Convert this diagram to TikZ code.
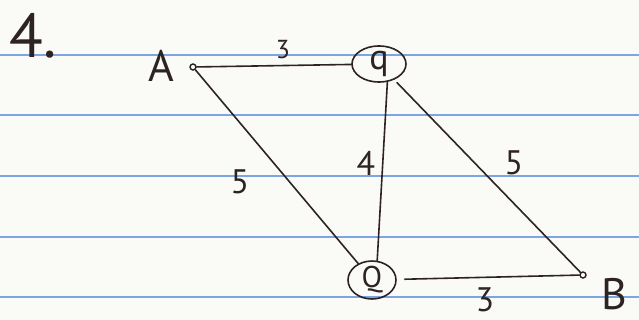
\documentclass[tikz,border=0pt]{standalone}
\usepackage{fontspec}
\setmainfont{PT Sans}
\usetikzlibrary{shapes.geometric}
\definecolor{ink}{RGB}{45,35,35}
\definecolor{ruling}{RGB}{125,165,228}
\definecolor{paper}{RGB}{250,250,247}
\tikzset{
  pen/.style={ink, line width=1.6pt, line cap=round},
  dot/.style={circle, draw=ink, line width=1.4pt, inner sep=0pt, minimum size=6pt},
  ring/.style={ellipse, draw=ink, line width=1.6pt, inner sep=0pt, text=ink},
  weight/.style={text=ink, inner sep=0pt, font=\fontsize{34}{36}\selectfont},
  letter/.style={text=ink, inner sep=0pt, font=\fontsize{44}{46}\selectfont},
}
\begin{document}
\begin{tikzpicture}[x=1pt,y=-1pt]
        \fill[paper] (0,0) rectangle (639,320);
        \useasboundingbox (0,0) rectangle (639,320);
        \foreach \Y in {55,115,176,237,297} {
                \draw[ruling, line width=1.2pt] (0,\Y) -- (639,\Y);}
        \node[text=ink, inner sep=0pt, font=\fontsize{62}{62}\selectfont] (num) at (33,36) {4.};

        \node[dot] (A) at (193,67) {};
        \node[letter] (a) at (161,66) {A};
        \node[ring, minimum width=54pt, minimum height=35pt, font=\fontsize{36}{38}\selectfont] (q) at (379,64) {q};
        \node[ring, minimum width=48pt, minimum height=35pt, font=\fontsize{30}{32}\selectfont] (Q) at (372,280) {Q};
        \node[dot] (B) at (583,275) {};
        \node[letter] (b) at (614,294) {B};

        \draw[pen] (A) -- (q);
        \draw[pen] (A) -- (Q);
        \draw[pen] (q.-65) -- (Q.75);
        \draw[pen, shorten <=4pt] (q) -- (B);
        \draw[pen, shorten <=8pt] (Q) -- (B);

        \node[weight, font=\fontsize{26}{28}\selectfont] (w1) at (283,50) {3};
        \node[weight] (w2) at (240,182) {5};
        \node[weight] (w3) at (366,163) {4};
        \node[weight] (w4) at (514,163) {5};
        \node[weight] (w5) at (485,300) {3};
\end{tikzpicture}
\end{document}
